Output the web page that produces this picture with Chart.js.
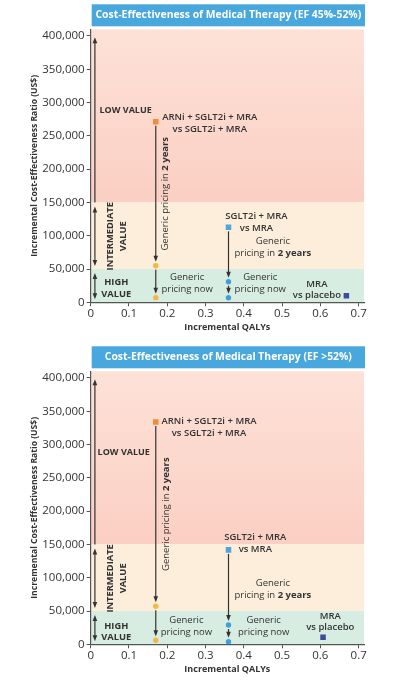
<!DOCTYPE html>
<html>
<head>
<meta charset="utf-8">
<script src="https://cdn.jsdelivr.net/npm/chart.js@4.4.1/dist/chart.umd.min.js"></script>
<style>
  body { margin: 0; background: #fff; width: 403px; height: 680px; overflow: hidden; position: relative; }
  .caixa { position: absolute; left: 0; width: 403px; height: 338px; }
</style>
</head>
<body>
<div class="caixa" style="top:0"><canvas id="grafico1"></canvas></div>
<div class="caixa" style="top:342px"><canvas id="grafico2"></canvas></div>
<script>
// eixos
const ejeX = [0, 0.1, 0.2, 0.3, 0.4, 0.5, 0.6, 0.7];
const ejeY = [0, 50000, 100000, 150000, 200000, 250000, 300000, 350000, 400000];
const limites = [50000, 150000]; // high | intermediate | low value

// EF 45%-52%  (QALY: ARNi, SGLT2i, MRA) / ICER: atual, genérico em 2 anos, genérico agora
const titulo1 = 'Cost-Effectiveness of Medical Therapy (EF 45%-52%)';
const qaly1 = [0.17, 0.36, 0.668];
const arni1 = [271000, 55000, 7000];
const sglt1 = [112600, 30900, 6900];
const mra1 = [9900];

// EF >52%
const titulo2 = 'Cost-Effectiveness of Medical Therapy (EF >52%)';
const qaly2 = [0.17, 0.36, 0.607];
const arni2 = [333800, 57100, 6000];
const sglt2 = [141800, 29000, 3900];
const mra2 = [10500];

const FONTE = "'Open Sans', 'DejaVu Sans', sans-serif";
const TEXTO = '#333';

// rótulos (posição em unidades dos eixos)
const rotulos1 = [
  {l: ['LOW VALUE'], x: 0.023, y: 288700, f: 'bold', s: 9, a: 'left'},
  {l: ['ARNi + SGLT2i + MRA', 'vs SGLT2i + MRA'], x: 0.311, y: 277800, f: '600'},
  {l: [[['Generic pricing in ', 0], ['2 years', 1]]], x: 0.194, y: (arni1[0] + arni1[1]) / 2, rot: true},
  {l: ['SGLT2i + MRA', 'vs MRA'], x: 0.433, y: 128500, f: '600'},
  {l: ['Generic', [['pricing in ', 0], ['2 years', 1]]], x: 0.476, y: 91000},
  {l: ['Generic', 'pricing now'], x: 0.252, y: 37500},
  {l: ['Generic', 'pricing now'], x: 0.443, y: 37500},
  {l: ['MRA', 'vs placebo'], x: 0.591, y: 27500, f: '600'},
  {l: ['HIGH', 'VALUE'], x: 0.0668, y: 29400, f: 'bold', s: 9.3},
  {l: ['INTERMEDIATE', 'VALUE'], x: 0.0504, y: 99200, f: 'bold', s: 9.3, rot: true, lh: 13}
];
const rotulos2 = [
  {l: ['LOW VALUE'], x: 0.018, y: 288700, f: 'bold', s: 9, a: 'left'},
  {l: ['ARNi + SGLT2i + MRA', 'vs SGLT2i + MRA'], x: 0.309, y: 334700, f: '600'},
  {l: [[['Generic pricing in ', 0], ['2 years', 1]]], x: 0.197, y: (arni2[0] + arni2[1]) / 2, rot: true},
  {l: ['SGLT2i + MRA', 'vs MRA'], x: 0.430, y: 160300, f: '600'},
  {l: ['Generic', [['pricing in ', 0], ['2 years', 1]]], x: 0.476, y: 91700},
  {l: ['Generic', 'pricing now'], x: 0.250, y: 35500},
  {l: ['Generic', 'pricing now'], x: 0.452, y: 35500},
  {l: ['MRA', 'vs placebo'], x: 0.626, y: 42600, f: '600'},
  {l: ['HIGH', 'VALUE'], x: 0.0668, y: 27500, f: 'bold', s: 9.3},
  {l: ['INTERMEDIATE', 'VALUE'], x: 0.0504, y: 99000, f: 'bold', s: 9.3, rot: true, lh: 13}
];

function fonte(peso, tam) {
  return peso + ' ' + tam + 'px ' + FONTE;
}

function ponta(ctx, x, y, dir) {
  ctx.beginPath();
  ctx.moveTo(x, y);
  ctx.lineTo(x - 2.3, y - dir * 6);
  ctx.lineTo(x + 2.3, y - dir * 6);
  ctx.closePath();
  ctx.fill();
}

function flecha(ctx, x, y1, y2, duas) {
  const dir = y2 > y1 ? 1 : -1;
  ctx.beginPath();
  ctx.moveTo(x, y1 + (duas ? dir * 4 : 0));
  ctx.lineTo(x, y2 - dir * 4);
  ctx.stroke();
  ponta(ctx, x, y2, dir);
  if (duas) ponta(ctx, x, y1, -dir);
}

function escreve(ctx, chart, r) {
  const px = chart.scales.x.getPixelForValue(r.x);
  const py = chart.scales.y.getPixelForValue(r.y);
  const tam = r.s || 9.5;
  const lh = r.lh || 11.6;
  ctx.save();
  ctx.translate(px, py);
  if (r.rot) ctx.rotate(-Math.PI / 2);
  ctx.textBaseline = 'middle';
  ctx.textAlign = 'left';
  ctx.fillStyle = TEXTO;
  r.l.forEach((linha, i) => {
    const partes = typeof linha === 'string' ? [[linha, 0]] : linha;
    let w = 0;
    partes.forEach(p => {
      ctx.font = fonte(p[1] ? 'bold' : (r.f || 'normal'), tam);
      w += ctx.measureText(p[0]).width;
    });
    let x0 = r.a === 'left' ? 0 : -w / 2;
    partes.forEach(p => {
      ctx.font = fonte(p[1] ? 'bold' : (r.f || 'normal'), tam);
      ctx.fillText(p[0], x0, i * lh);
      x0 += ctx.measureText(p[0]).width;
    });
  });
  ctx.restore();
}

const desenho = {
  id: 'desenho',
  beforeDraw(chart) {
    const {ctx, chartArea: a, scales: {y}} = chart;
    const y50 = y.getPixelForValue(limites[0]);
    const y150 = y.getPixelForValue(limites[1]);
    ctx.save();
    const grad = ctx.createLinearGradient(0, a.top, 0, y150);
    grad.addColorStop(0, '#fde1d7');
    grad.addColorStop(1, '#fbcfc3');
    ctx.fillStyle = grad;
    ctx.fillRect(a.left, a.top, a.right - a.left, y150 - a.top);
    ctx.fillStyle = '#fdeedb';
    ctx.fillRect(a.left, y150, a.right - a.left, y50 - y150);
    ctx.fillStyle = '#d8ede1';
    ctx.fillRect(a.left, y50, a.right - a.left, a.bottom - y50);
    ctx.restore();
  },
  afterDatasetsDraw(chart, args, opts) {
    const {ctx, scales: {x, y}} = chart;
    ctx.save();
    ctx.strokeStyle = '#333';
    ctx.fillStyle = '#333';
    ctx.lineWidth = 1.2;
    // setas de valor à esquerda
    const xs = x.getPixelForValue(0.011);
    flecha(ctx, xs, y.getPixelForValue(limites[1]), y.getPixelForValue(398000), false);
    flecha(ctx, xs, y.getPixelForValue(limites[1]) + 4, y.getPixelForValue(limites[0]) - 3, true);
    flecha(ctx, xs, y.getPixelForValue(limites[0]) + 4, y.getPixelForValue(0) - 3, true);
    // setas entre os pontos (preço atual -> genérico)
    [[[0, 0], [1, 0], [1, 1]], [[2, 0], [3, 0], [3, 1]]].forEach(cad => {
      for (let i = 0; i < cad.length - 1; i++) {
        const a = chart.getDatasetMeta(cad[i][0]).data[cad[i][1]];
        const b = chart.getDatasetMeta(cad[i + 1][0]).data[cad[i + 1][1]];
        ctx.beginPath();
        ctx.moveTo(a.x, a.y + 4);
        ctx.lineTo(b.x, b.y - 6);
        ctx.stroke();
        ponta(ctx, b.x, b.y - 4, 1);
      }
    });
    ctx.restore();
    opts.rotulos.forEach(r => escreve(ctx, chart, r));
  },
  afterDraw(chart, args, opts) {
    const {ctx, chartArea: a} = chart;
    ctx.save();
    ctx.fillStyle = '#48a7dd';
    ctx.fillRect(a.left + 1, a.top - 25, a.right - a.left, 22);
    ctx.fillStyle = '#fff';
    ctx.font = fonte('bold', 10.4);
    ctx.textAlign = 'center';
    ctx.textBaseline = 'middle';
    ctx.fillText(opts.titulo, (a.left + a.right) / 2 + 1, a.top - 14);
    ctx.restore();
  }
};

function pontos(xv, yv) {
  return yv.map(v => ({x: xv, y: v}));
}

function grafico(id, titulo, qaly, arni, sglt, mra, rotulos) {
  const quadrado = {pointStyle: 'rect', pointRadius: 3.9, pointBorderWidth: 0};
  const bola = {pointStyle: 'circle', pointRadius: 2.7, pointBorderWidth: 0};
  new Chart(document.getElementById(id), {
    type: 'scatter',
    data: {
      datasets: [
        Object.assign({data: pontos(qaly[0], arni.slice(0, 1)), backgroundColor: '#f28b3a'}, quadrado),
        Object.assign({data: pontos(qaly[0], arni.slice(1)), backgroundColor: '#f7b545'}, bola),
        Object.assign({data: pontos(qaly[1], sglt.slice(0, 1)), backgroundColor: '#4ba6df'}, quadrado),
        Object.assign({data: pontos(qaly[1], sglt.slice(1)), backgroundColor: '#3f9fdc'}, bola),
        Object.assign({data: pontos(qaly[2], mra), backgroundColor: '#3e4a9e'}, quadrado)
      ]
    },
    options: {
      responsive: true,
      maintainAspectRatio: false,
      animation: false,
      events: [],
      layout: {padding: {top: 29.3, right: 39, left: 0, bottom: 0}},
      plugins: {
        legend: {display: false},
        tooltip: {enabled: false},
        desenho: {titulo: titulo, rotulos: rotulos}
      },
      scales: {
        x: {
          type: 'linear', min: 0, max: 0.714,
          afterBuildTicks: s => { s.ticks = ejeX.map(v => ({value: v})); },
          afterFit: s => { s.height = 35.7; },
          ticks: {
            padding: 1, color: '#333', font: {family: FONTE, size: 11.5},
            callback: v => v === 0 ? '0' : v.toFixed(1)
          },
          grid: {drawOnChartArea: false, tickLength: 4, color: '#555'},
          border: {color: '#555', width: 1.2},
          title: {
            display: true, text: 'Incremental QALYs', color: TEXTO,
            font: {family: FONTE, size: 9, weight: 'bold'}, padding: {top: 0, bottom: 5}
          }
        },
        y: {
          min: 0, max: 410000,
          afterBuildTicks: s => { s.ticks = ejeY.map(v => ({value: v})); },
          afterFit: s => { s.width = 90.7; },
          ticks: {
            padding: 2, color: '#333', font: {family: FONTE, size: 11.5},
            callback: v => v.toLocaleString('en-US')
          },
          grid: {drawOnChartArea: false, tickLength: 4, color: '#555'},
          border: {color: '#555', width: 1.2},
          title: {
            display: true, text: 'Incremental Cost-Effectiveness Ratio (US$)', color: TEXTO,
            font: {family: FONTE, size: 8.6, weight: 'bold'}, padding: {top: 29.5, bottom: 0}
          }
        }
      }
    },
    plugins: [desenho]
  });
}

grafico('grafico1', titulo1, qaly1, arni1, sglt1, mra1, rotulos1);
grafico('grafico2', titulo2, qaly2, arni2, sglt2, mra2, rotulos2);
</script>
</body>
</html>
